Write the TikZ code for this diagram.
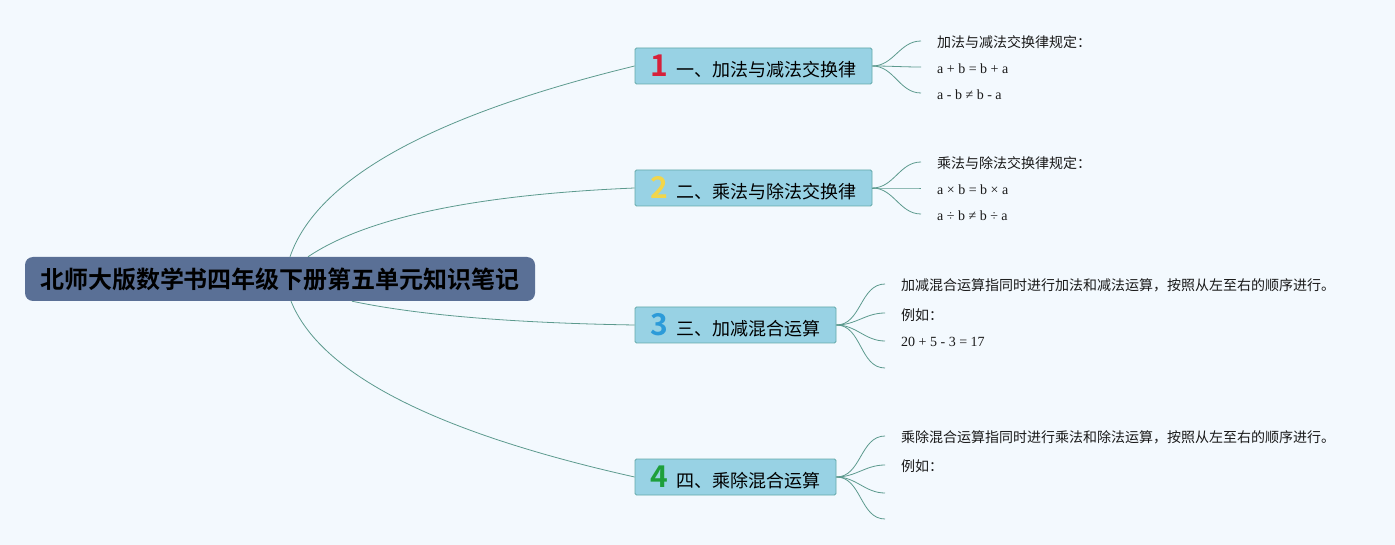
\documentclass[tikz,border=0pt]{standalone}
\usepackage{fontspec}
\setmainfont{Liberation Serif}
\newfontfamily\cjk{Noto Sans CJK SC}[BoldFont={Noto Sans CJK SC Bold}]
\definecolor{bgc}{HTML}{F3F9FE}
\definecolor{rootc}{HTML}{5A7096}
\definecolor{topicc}{HTML}{98D2E4}
\definecolor{topicb}{HTML}{64AAAA}
\definecolor{linec}{HTML}{5C9A8E}
\definecolor{numa}{HTML}{D6213A}
\definecolor{numb}{HTML}{F2D64B}
\definecolor{numc}{HTML}{2C9BD9}
\definecolor{numd}{HTML}{1E9F3B}
\newcommand\topicnum[2]{{\bfseries\fontsize{30}{30}\selectfont\color{#1}#2}\hspace{8pt}}
\begin{document}
\begin{tikzpicture}[x=1pt,y=-1pt,
  conn/.style={draw=linec, line width=0.8pt},
  rootbox/.style={fill=rootc, rounded corners=8pt, minimum width=510pt, minimum height=44pt, inner sep=0pt, font=\cjk\bfseries\fontsize{24}{26}\selectfont, text=black},
  topic/.style={fill=topicc, draw=topicb, line width=0.8pt, rounded corners=1.5pt, minimum height=36pt, inner sep=0pt, font=\cjk\fontsize{18}{20}\selectfont, text=black},
  leaf/.style={anchor=west, inner sep=0pt, font=\fontsize{14}{16}\selectfont, text=black!90},
  cleaf/.style={leaf, font=\cjk\fontsize{14}{16}\selectfont},
]
\fill[bgc] (0,0) rectangle (1395,545);
\useasboundingbox (0,0) rectangle (1395,545);

% root
\node[rootbox] (root) at (280,279) {北师大版数学书四年级下册第五单元知识笔记};

% topics
\node[topic, minimum width=237pt] (n1) at (753.5,66) {\topicnum{numa}{1}一、加法与减法交换律};
\node[topic, minimum width=237pt] (n2) at (753.5,188) {\topicnum{numb}{2}二、乘法与除法交换律};
\node[topic, minimum width=201pt] (n3) at (735.5,325) {\topicnum{numc}{3}三、加减混合运算};
\node[topic, minimum width=201pt] (n4) at (735.5,477) {\topicnum{numd}{4}四、乘除混合运算};

% root connectors
\draw[conn] ([xshift=10pt]root.north) .. controls (316.7,179) and (431.7,115.3) .. (n1.west);
\draw[conn] ([xshift=28pt]root.north) .. controls (366,217.7) and (475,194.7) .. (n2.west);
\draw[conn] ([xshift=72pt]root.south) .. controls (417.3,315) and (511.7,323) .. (n3.west);
\draw[conn] ([xshift=11pt]root.south) .. controls (320.3,373.7) and (435,432.3) .. (n4.west);

% leaf end coordinates
\coordinate (e11) at (921,41);
\coordinate (e12) at (921,67);
\coordinate (e13) at (921,93);
\coordinate (e21) at (921,162);
\coordinate (e22) at (921,188);
\coordinate (e23) at (921,214);
\coordinate (e31) at (885,284);
\coordinate (e32) at (885,313);
\coordinate (e33) at (885,341);
\coordinate (e34) at (885,368);
\coordinate (e41) at (885,436);
\coordinate (e42) at (885,465);
\coordinate (e43) at (885,493);
\coordinate (e44) at (885,519);

% leaf texts
\node[cleaf] (t11) at (937,42) {加法与减法交换律规定：};
\node[leaf] (t12) at (937,69) {a + b = b + a};
\node[leaf] (t13) at (937,95) {a - b ≠ b - a};
\node[cleaf] (t21) at (937,163) {乘法与除法交换律规定：};
\node[leaf] (t22) at (937,190) {a × b = b × a};
\node[leaf] (t23) at (937,216) {a ÷ b ≠ b ÷ a};
\node[cleaf] (t31) at (901,285) {加减混合运算指同时进行加法和减法运算，按照从左至右的顺序进行。};
\node[cleaf] (t32) at (901,315) {例如：};
\node[leaf] (t33) at (901,342) {20 + 5 - 3 = 17};
\node[cleaf] (t41) at (901,437) {乘除混合运算指同时进行乘法和除法运算，按照从左至右的顺序进行。};
\node[cleaf] (t42) at (901,466) {例如：};

% topic-to-leaf connectors
\foreach \n/\e in {n1/e11,n1/e12,n1/e13,n2/e21,n2/e22,n2/e23,n3/e31,n3/e32,n3/e33,n3/e34,n4/e41,n4/e42,n4/e43,n4/e44}{
  \draw[conn] (\n.east) to[out=0,in=180] (\e);
}
\end{tikzpicture}
\end{document}
